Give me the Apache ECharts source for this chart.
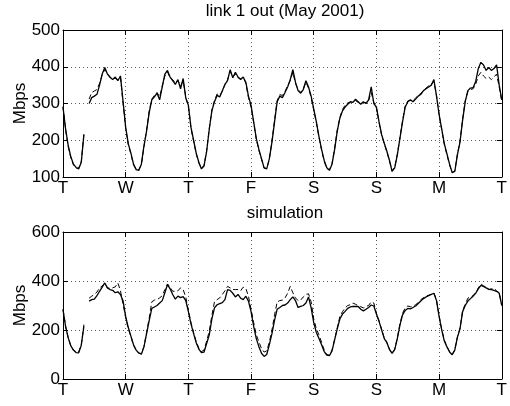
<!DOCTYPE html>
<html><head><meta charset="utf-8">
<script src="https://cdn.jsdelivr.net/npm/echarts@6/dist/echarts.min.js"></script>
<style>html,body{margin:0;padding:0;background:#fff}#c{width:510px;height:406px}</style>
</head><body><div id="c"></div>
<script>
// Tick labels (days of the week, starting Tuesday)
const dayLabels = ['T', 'W', 'T', 'F', 'S', 'S', 'M', 'T'];
const topTitle = 'link 1 out (May 2001)';
const bottomTitle = 'simulation';
const yName = 'Mbps';
// hour index along the week (0..168)
const hours = Array.from({length: 169}, (_, i) => i);

// Top panel: measured link traffic (solid) and second trace (dashed), Mbps, hourly
const linkSolid = [
  290, 230, 185, 155, 135, 126, 122, 140, 215, null, 300, 316, 320, 325, 350, 380, 398, 380, 372, 365, 372, 362, 375, 305,
  235, 190, 165, 135, 120, 118, 135, 185, 225, 275, 310, 318, 328, 310, 345, 380, 390, 372, 362, 352, 365, 340, 368, 315,
  295, 235, 200, 165, 140, 122, 130, 170, 230, 280, 305, 322, 318, 335, 352, 362, 392, 370, 385, 372, 365, 372, 358, 320,
  295, 250, 205, 175, 150, 125, 122, 150, 195, 250, 305, 320, 316, 330, 345, 365, 392, 358, 335, 328, 338, 362, 345, 320,
  285, 250, 210, 175, 145, 125, 118, 135, 175, 225, 260, 280, 290, 298, 305, 303, 312, 305, 298, 305, 300, 310, 345, 300,
  290, 250, 215, 192, 170, 145, 115, 125, 160, 205, 250, 290, 305, 310, 305, 312, 320, 325, 335, 340, 345, 350, 365, 320,
  270, 230, 190, 163, 135, 112, 115, 160, 195, 255, 305, 335, 342, 343, 360, 395, 412, 405, 390, 398, 390, 395, 405, 350, 310
];
const linkDashed = [
  292, 228, 183, 152, 133, 124, 124, 142, 218, null, 312, 330, 334, 338, 355, 378, 392, 382, 370, 368, 368, 365, 372, 300,
  232, 188, 162, 133, 122, 120, 133, 182, 228, 280, 312, 322, 330, 318, 348, 375, 386, 370, 365, 355, 362, 348, 362, 318,
  292, 232, 198, 163, 138, 124, 132, 172, 232, 283, 308, 326, 322, 333, 352, 365, 388, 372, 380, 370, 368, 370, 355, 316,
  290, 248, 203, 172, 148, 124, 124, 148, 198, 255, 308, 324, 322, 333, 348, 362, 385, 355, 338, 330, 340, 358, 342, 316,
  282, 248, 208, 173, 143, 123, 120, 137, 178, 228, 262, 284, 295, 302, 302, 306, 308, 303, 300, 303, 302, 308, 330, 303,
  288, 248, 213, 190, 168, 143, 117, 127, 162, 208, 253, 293, 307, 308, 308, 315, 322, 328, 335, 342, 348, 352, 360, 322,
  268, 228, 188, 160, 133, 112, 117, 162, 198, 258, 308, 332, 338, 340, 352, 375, 385, 375, 368, 372, 365, 372, 380, 345, 305
];

// Bottom panel: simulation (solid) and second trace (dashed), Mbps, hourly
const simSolid = [
  283, 214, 168, 135, 118, 108, 107, 138, 215, null, 318, 324, 326, 340, 358, 375, 392, 372, 365, 362, 352, 356, 345, 318,
  255, 210, 175, 140, 118, 106, 101, 131, 185, 238, 288, 294, 300, 310, 320, 352, 385, 368, 345, 326, 338, 332, 336, 320,
  275, 225, 185, 148, 122, 108, 110, 145, 180, 245, 290, 303, 308, 312, 324, 365, 362, 350, 335, 345, 330, 324, 338, 318,
  275, 215, 165, 132, 105, 92, 100, 140, 185, 240, 285, 292, 300, 302, 310, 324, 335, 320, 292, 296, 300, 310, 335, 290,
  230, 190, 165, 140, 112, 97, 95, 115, 160, 205, 245, 265, 276, 288, 294, 296, 296, 296, 285, 278, 285, 292, 302, 298,
  265, 235, 200, 165, 148, 120, 105, 120, 165, 220, 262, 280, 288, 286, 292, 298, 308, 318, 328, 335, 340, 345, 350, 320,
  255, 200, 155, 131, 110, 99, 118, 170, 205, 275, 300, 318, 328, 338, 350, 368, 382, 378, 372, 366, 365, 362, 358, 350, 300
];
const simDashed = [
  285, 215, 168, 135, 118, 110, 110, 140, 222, null, 330, 338, 345, 355, 372, 380, 390, 372, 370, 372, 376, 392, 360, 305,
  250, 205, 172, 138, 116, 106, 104, 133, 190, 248, 315, 322, 324, 331, 340, 365, 388, 375, 358, 358, 360, 372, 365, 335,
  280, 230, 190, 152, 126, 112, 118, 155, 195, 260, 315, 324, 331, 345, 360, 378, 372, 365, 365, 365, 360, 375, 370, 338,
  285, 230, 180, 152, 124, 110, 115, 150, 200, 262, 315, 320, 322, 331, 350, 378, 352, 331, 320, 322, 335, 345, 348, 315,
  245, 205, 180, 150, 118, 100, 97, 118, 162, 208, 255, 275, 290, 300, 303, 310, 305, 300, 295, 290, 296, 300, 315, 310,
  268, 238, 202, 168, 150, 122, 106, 122, 168, 225, 268, 290, 298, 295, 298, 303, 312, 324, 332, 338, 342, 346, 352, 322,
  258, 202, 158, 133, 112, 100, 120, 172, 208, 280, 305, 330, 335, 340, 352, 372, 388, 380, 375, 366, 368, 370, 360, 352, 300
];

const FONT = "'Liberation Sans', Arial, Helvetica, sans-serif";
const FS = 17;
const pairs = arr => hours.map((h, i) => [h, arr[i]]);

function xAxes(gridIndex) {
  return [{
    type: 'value', gridIndex, min: 0, max: 168, interval: 24, position: 'bottom',
    axisLine: {show: true, onZero: false, lineStyle: {color: '#000', width: 1}},
    axisTick: {show: true, inside: true, length: 5, lineStyle: {color: '#000'}},
    axisLabel: {color: '#000', fontSize: FS, fontFamily: FONT, margin: 3,
      formatter: v => dayLabels[Math.round(v / 24)]},
    splitLine: {show: true, lineStyle: {color: '#555', type: [1, 3], width: 1}}
  }, {
    type: 'value', gridIndex, min: 0, max: 168, interval: 24, position: 'top',
    axisLine: {show: true, onZero: false, lineStyle: {color: '#000', width: 1}},
    axisTick: {show: true, inside: true, length: 5, lineStyle: {color: '#000'}},
    axisLabel: {show: false}, splitLine: {show: false}
  }];
}
function yAxes(gridIndex, min, max, interval) {
  return [{
    type: 'value', gridIndex, min, max, interval, position: 'left',
    name: yName, nameLocation: 'middle', nameGap: 34, nameMoveOverlap: false,
    nameTextStyle: {color: '#000', fontSize: FS, fontFamily: FONT},
    axisLine: {show: true, onZero: false, lineStyle: {color: '#000', width: 1}},
    axisTick: {show: true, inside: true, length: 5, lineStyle: {color: '#000'}},
    axisLabel: {color: '#000', fontSize: FS, fontFamily: FONT, margin: 3},
    splitLine: {show: true, lineStyle: {color: '#555', type: [1, 3], width: 1}}
  }, {
    type: 'value', gridIndex, min, max, interval, position: 'right',
    axisLine: {show: true, onZero: false, lineStyle: {color: '#000', width: 1}},
    axisTick: {show: true, inside: true, length: 5, lineStyle: {color: '#000'}},
    axisLabel: {show: false}, splitLine: {show: false}
  }];
}
function line(data, xi, yi, dashed) {
  return {
    type: 'line', xAxisIndex: xi, yAxisIndex: yi, data: pairs(data),
    showSymbol: false, symbol: 'none', connectNulls: false,
    lineStyle: {color: '#000', width: dashed ? 1 : 1.3, type: dashed ? [5, 3] : 'solid'},
    z: dashed ? 2 : 3
  };
}

const chart = echarts.init(document.getElementById('c'), null, {renderer: 'canvas'});
chart.setOption({
  animation: false,
  backgroundColor: '#fff',
  title: [
    {text: topTitle, left: 285, top: 3, textAlign: 'center', padding: 0,
      textStyle: {color: '#000', fontSize: FS, fontWeight: 'normal', fontFamily: FONT}},
    {text: bottomTitle, left: 285, top: 205, textAlign: 'center', padding: 0,
      textStyle: {color: '#000', fontSize: FS, fontWeight: 'normal', fontFamily: FONT}}
  ],
  grid: [
    {left: 63, right: 3, top: 30, height: 147},
    {left: 63, right: 3, top: 232, height: 147}
  ],
  xAxis: [...xAxes(0), ...xAxes(1)],
  yAxis: [...yAxes(0, 100, 500, 100), ...yAxes(1, 0, 600, 200)],
  series: [
    line(linkDashed, 0, 0, true),
    line(linkSolid, 0, 0, false),
    line(simDashed, 2, 2, true),
    line(simSolid, 2, 2, false)
  ]
});
</script>
</body></html>
